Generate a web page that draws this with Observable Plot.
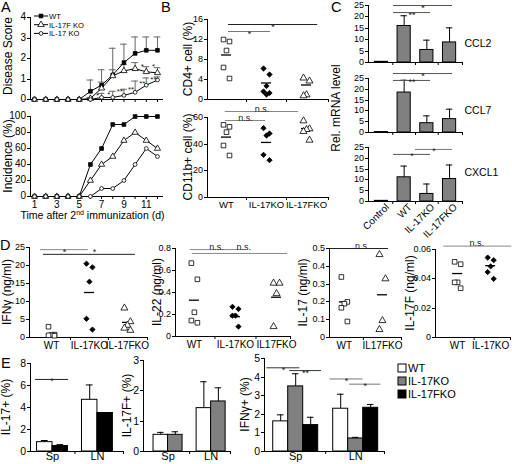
<!DOCTYPE html>
<html><head><meta charset="utf-8">
<script src="https://cdn.jsdelivr.net/npm/d3@7"></script>
<script src="https://cdn.jsdelivr.net/npm/@observablehq/plot@0.6"></script>
<style>
body{margin:0;background:#fff;}
#root{position:relative;width:512px;height:464px;overflow:hidden;background:#fff;}
#ticks{position:absolute;left:0;top:0;width:512px;height:464px;z-index:20;pointer-events:none;
  font-family:"Liberation Sans",Arial,Helvetica,sans-serif;color:#000;}
#ticks span{position:absolute;line-height:1;white-space:nowrap;transform:translate(-100%,-50%);}
#ticks b{position:absolute;display:block;height:1px;width:3px;background:#000;}
</style></head><body><div id="root"></div>
<script>
// ---------------- DATA ----------------
// Panel A
const days = [1,2,3,4,5,6,7,8,9,10,11,12];
const scoreWT = [0,0,0,0,0,0.4,0.7,1.2,1.8,2.25,2.4,2.4];
const scoreWTErr = [0,0,0,0,0,0.55,0.75,1.3,0.9,0.8,0.65,0.65];
const score17F = [0,0,0,0,0,0.05,0.55,1.15,1.4,1.5,1.35,1.3];
const score17FErr = [0,0,0,0,0,0.05,0.3,0.3,0.3,0.3,0.25,0.25];
const score17 = [0,0,0,0,0,0,0.1,0.1,0.2,0.35,0.7,0.95];
const score17Err = [0,0,0,0,0,0,0.2,0.3,0.3,0.55,0.35,0.15];
const incWT = [0,0,0,0,0,40,60,90,90,100,100,100];
const inc17F = [0,0,0,0,0,20,40,50,70,80,70,60];
const inc17 = [0,0,0,0,0,0,10,10,20,40,60,50];
const aStars = [
  {day:7,y:0.22,t:"*"},{day:8,y:0.25,t:"*"},{day:9,y:0.4,t:"**"},{day:10,y:0.5,t:"**"},
  {day:11,y:0.78,t:"**"},{day:12,y:1.0,t:"**"},{day:11,y:1.62,t:"*"},{day:12,y:1.62,t:"*"}];
const aLegend = ["WT","IL-17F KO","IL-17 KO"];

// Panel B
const bCats = ["WT","IL-17KO","IL-17FKO"];
const cd4WT = [12.0,11.6,9.8,6.4,4.2];
const cd4KO = [6.2,5.0,2.7,1.6,1.3,1.0];
const cd4FKO = [4.3,3.7,0.95,0.75];
const cd4Mean = [8.9,3.3,2.9];
const cd11WT = [54.5,53,49,39,31.5];
const cd11KO = [52,48,46.5,32,28];
const cd11FKO = [57.5,51.5,51,49.5,43];
const cd11Mean = [45.3,41.3,51.7];
const bSigTop = [{x1:0.05,x2:1.1,y:13.6,t:"*",c:"#777"},{x1:0.05,x2:2.28,y:15.0,t:"*",c:"#222"}];
const bSigBot = [{x1:-0.03,x2:0.98,y:57.75,t:"n.s.",c:"#888"},{x1:-0.03,x2:1.8,y:64.5,t:"n.s.",c:"#888"}];

// Panel C
const cCats = ["Control","WT","IL-17KO","IL-17FKO"];
const ccl2 = [0.3,16,5.5,8.8];   const ccl2Err = [0,4.5,4.3,6.4];
const ccl7 = [0.2,18.5,4.3,6.2]; const ccl7Err = [0,5.7,3.4,4.6];
const cxcl1 = [0.3,11.2,3.5,10.4]; const cxcl1Err = [0,5.2,4.6,6.5];
const cSig2 = [{x1:0.53,x2:3.13,y:25,t:"*",c:"#555"},{x1:0.53,x2:2.16,y:21.9,t:"**",c:"#555"}];
const cSig7 = [{x1:0.53,x2:3.13,y:27.3,t:"*",c:"#555"},{x1:0.53,x2:2.16,y:24.1,t:"**",c:"#555"}];
const cSigX = [{x1:0.53,x2:2.16,y:21.8,t:"*",c:"#555"},{x1:1.5,x2:3.13,y:24.1,t:"*",c:"#777"}];

// Panel D
const d1Cats = ["WT","IL-17KO","IL-17FKO"];
const ifnWT = [3.0,0.8,0.7,0.6,0.5];
const ifnKO = [20.5,19.5,15.5,5.2,2.2];
const ifnFKO = [8.2,4.4,3.4,2.6,2.0];
const ifnMean = [0.9,12.5,4.2];
const d1Sig = [{x1:-0.29,x2:0.97,y:24.4,t:"*",c:"#888"},{x1:-0.21,x2:2.21,y:23.1,t:"*",c:"#222",tx:1.13,ty:24.4}];
const d2Cats = ["WT","IL-17KO","IL17FKO"];
const il22WT = [0.667,0.52,0.22,0.145,0.125];
const il22KO = [0.27,0.25,0.19,0.19,0.09];
const il22FKO = [0.485,0.485,0.39,0.09];
const il22Mean = [0.33,0.18,0.357];
const d2Sig = [{x1:-0.1,x2:1.24,y:0.79,t:"n.s.",c:"#888",tx:0.54},{x1:-0.05,x2:2.27,y:0.755,t:"n.s.",c:"#888",tx:1.2,ty:0.79}];
const d3Cats = ["WT","IL17FKO"];
const il17WT = [0.34,0.2,0.19,0.167,0.09];
const il17FKO = [0.466,0.33,0.095,0.045];
const il17Mean = [0.2,0.24];
const d3Sig = [{x1:-0.37,x2:1.16,y:0.5,t:"n.s.",c:"#222",tx:0.47}];
const d4Cats = ["WT","IL-17KO"];
const il17fWT = [0.0516,0.050,0.0376,0.0376,0.0336];
const il17fKO = [0.0545,0.0527,0.0485,0.0446,0.040];
const il17fMean = [0.0436,0.049];
const d4Sig = [{x1:-0.42,x2:1.64,y:0.0623,t:"n.s.",c:"#888",tx:0.58}];

// Panel E
const eGroups = ["Sp","LN"];
const eLegend = ["WT","IL-17KO","IL-17FKO"];
const e1WT = [0.85,4.7];  const e1WTErr = [0.15,1.35];
const e1FKO = [0.5,3.5];  const e1FKOErr = [0.12,0];
const e2WT = [0.55,1.43]; const e2WTErr = [0.08,0.87];
const e2KO = [0.55,1.65]; const e2KOErr = [0.1,0.45];
const e3WT = [1.62,2.3];  const e3WTErr = [0.35,0.78];
const e3KO = [3.5,0.7];   const e3KOErr = [0.68,0.06];
const e3FKO = [1.42,2.35];const e3FKOErr = [0.42,0.18];
const e1Sig = [{x1:-0.38,x2:0.36,y:6.55,t:"*",c:"#222"}];
const e3Sig = [{x1:-0.48,x2:0.07,y:4.5,t:"*",c:"#333"},{x1:-0.1,x2:0.43,y:4.35,t:"**",c:"#333"},
               {x1:0.57,x2:1.12,y:3.9,t:"*",c:"#777"},{x1:0.9,x2:1.42,y:3.62,t:"*",c:"#777"}];

// ---------------- HELPERS ----------------
const FONT = "'Liberation Sans', Arial, Helvetica, sans-serif";
const root = document.getElementById("root");
const WHITE = "#fff", GRAY = "#808080", BLACK = "#000";
const yLabels = [];
const yAxes = [];

function place(frame, xdom, ydom, yticks, marks, opts = {}) {
  const [x0,y0,x1,y1] = frame;
  const ml=45, mr=45, mt=25, mb=40;
  const p = Plot.plot({
    width: x1-x0+ml+mr, height: y1-y0+mt+mb,
    marginLeft: ml, marginRight: mr, marginTop: mt, marginBottom: mb,
    x: {type:"linear", domain: xdom, label: null, axis: null},
    y: {type:"linear", domain: ydom, label: null, axis: null},
    marks
  });
  const left = x0-ml, topPx = y0-mt;
  p.style.position = "absolute";
  p.style.left = left + "px";
  p.style.top = topPx + "px";
  p.style.overflow = "visible";
  p.setAttribute("font-family", FONT);
  root.appendChild(p);
  // y-axis ticks: positions from Plot's y scale, with the frame mapping as a fallback
  let yfun = null;
  try {
    const ys = p.scale("y");
    if (ys && typeof ys.apply === "function") yfun = v => ys.apply(v);
  } catch (e) { yfun = null; }
  const lin = v => y1 - (v - ydom[0]) / (ydom[1] - ydom[0]) * (y1 - y0);
  const ticks = yticks.map(v => {
    let py = yfun ? topPx + yfun(v) : NaN;
    if (!Number.isFinite(py) || py < -50 || py > 600) py = lin(v);
    return {v, py};
  });
  yAxes.push({x: x0, ticks, size: opts.tickFont || 9});
  if (opts.ylab) yLabels.push({t: opts.ylab, x: x0 - opts.labOff, y: (y0+y1)/2 + (opts.labDy||0)});
  return p;
}
function sigMarks(sigs) {
  const out = [];
  for (const s of sigs) {
    out.push(Plot.ruleY([s], {y:"y", x1:"x1", x2:"x2", stroke: s.c, strokeWidth: 1}));
    const star = s.t.includes("*");
    out.push(Plot.text([s], {x: d => d.tx ?? (d.x1+d.x2)/2, y: d => d.ty ?? d.y, text:"t",
      lineAnchor:"bottom", dy: star ? 5 : 0, fontSize: 9, fill: "#222"}));
  }
  return out;
}
function baseMarks(xdom, ydom, bounds) {
  return [
    Plot.ruleX([xdom[0]], {stroke:"#000"}),
    Plot.ruleY([ydom[0]], {stroke:"#000"}),
    Plot.axisX({ticks: bounds, tickSize:3, tickFormat: () => "", label:null})
  ];
}

// dot-plot panel
function dotPanel(cfg) {
  const {frame, xdom, ydom, yticks, cats, series, means, sigs, ylab, labOff,
         catFont=10, catPad=4, showCats=true, labDy=0} = cfg;
  const ppu = (frame[2]-frame[0])/(xdom[1]-xdom[0]);
  const jit = [-3,3,0,-3,3,0];
  const bounds = cats.slice(1).map((_,i)=>i+0.5).concat([xdom[1]]);
  const marks = baseMarks(xdom, ydom, bounds);
  if (showCats) marks.push(Plot.axisX({ticks: cats.map((_,i)=>i), tickSize:0, tickPadding: catPad,
      tickFormat: i => cats[i], fontSize: catFont, label:null}));
  marks.push(Plot.ruleY(means.map((m,i)=>({m,i})), {y:"m", x1: d=>d.i-5/ppu, x2: d=>d.i+5/ppu, stroke:"#000", strokeWidth:1.3}));
  series.forEach((s, ci) => {
    const pts = s.vals.map((v,k) => ({x: ci + jit[k % jit.length]/ppu, y: v}));
    marks.push(Plot.dot(pts, {x:"x", y:"y", symbol: s.symbol, r: s.r, fill: s.fill, stroke:"#000", strokeWidth:0.8}));
  });
  marks.push(...sigMarks(sigs));
  return place(frame, xdom, ydom, yticks, marks, {ylab, labOff, labDy});
}
const SQ = {symbol:"square", r:2.6, fill:WHITE};
const DM = {symbol:"diamond2", r:2.4, fill:BLACK};
const TR = {symbol:"triangle", r:2.6, fill:WHITE};

// ---------------- PANEL A ----------------
const aX = [0.64, 12.54];
function rows(vals, errs) { return days.map((d,i)=>({day:d, v: vals[i], e: errs ? errs[i] : 0})); }
const aSeries = [
  {score: rows(scoreWT, scoreWTErr), inc: rows(incWT), symbol:"square", r:2.1, fill:BLACK},
  {score: rows(score17F, score17FErr), inc: rows(inc17F), symbol:"triangle", r:2.3, fill:WHITE},
  {score: rows(score17, score17Err), inc: rows(inc17), symbol:"circle", r:1.9, fill:WHITE}
];
{
  const marks = baseMarks(aX, [0,4], days);
  for (const s of aSeries) {
    const er = s.score.filter(d=>d.e>0);
    marks.push(Plot.ruleX(er, {x:"day", y1:"v", y2: d=>d.v+d.e, stroke:"#666"}));
    marks.push(Plot.ruleY(er, {y: d=>d.v+d.e, x1: d=>d.day-0.3, x2: d=>d.day+0.3, stroke:"#666"}));
  }
  for (const s of aSeries) {
    marks.push(Plot.line(s.score, {x:"day", y:"v", stroke:"#000", strokeWidth:1}));
    marks.push(Plot.dot(s.score, {x:"day", y:"v", symbol:s.symbol, r:s.r, fill:s.fill, stroke:"#000", strokeWidth:0.8}));
  }
  marks.push(Plot.text(aStars, {x:"day", y:"y", text:"t", dx:-4, fontSize:8, fill:"#222"}));
  place([30,17,163,99], aX, [0,4], [0,1,2,3,4], marks, {ylab:"Disease Score", labOff:22, labDy:-2, tickFont:10});
}
{
  const marks = baseMarks(aX, [0,100], days);
  marks.push(Plot.axisX({ticks: days.filter(d=>d%2===1), tickSize:0, tickPadding:4, fontSize:10, label:null}));
  for (const s of aSeries) {
    marks.push(Plot.line(s.inc, {x:"day", y:"v", stroke:"#000", strokeWidth:1}));
    marks.push(Plot.dot(s.inc, {x:"day", y:"v", symbol:s.symbol, r:s.r, fill:s.fill, stroke:"#000", strokeWidth:0.8}));
  }
  place([30,116,163,196], aX, [0,100], [0,20,40,60,80,100], marks, {ylab:"Incidence (%)", labOff:22, tickFont:10});
}

// ---------------- PANEL B ----------------
dotPanel({frame:[207,19,328,99], xdom:[-0.475,2.55], ydom:[0,16], yticks:[0,4,8,12,16], cats:bCats,
  series:[{vals:cd4WT,...SQ},{vals:cd4KO,...DM},{vals:cd4FKO,...TR}], means:cd4Mean, sigs:bSigTop,
  ylab:"CD4+ cell (%)", labOff:19, showCats:false});
dotPanel({frame:[207,117,328,197], xdom:[-0.475,2.55], ydom:[0,60], yticks:[0,20,40,60], cats:bCats,
  series:[{vals:cd11WT,...SQ},{vals:cd11KO,...DM},{vals:cd11FKO,...TR}], means:cd11Mean, sigs:bSigBot,
  ylab:"CD11b+ cell (%)", labOff:19, catFont:9.5, catPad:4});

// ---------------- PANEL C ----------------
function barC(frame, vals, errs, sigs, name, nameDy, showCats, lab) {
  const xdom = [-0.57, 3.57];
  const bars = vals.map((v,i)=>({i, v, e: errs[i]}));
  const marks = baseMarks(xdom, [0,25], [0.5,1.5,2.5,xdom[1]]);
  marks.push(Plot.rectY(bars, {x1: d=>d.i-0.29, x2: d=>d.i+0.29, y1: 0, y2: "v", fill: GRAY, stroke:"#000", strokeWidth:1}));
  const er = bars.filter(d=>d.e>0);
  marks.push(Plot.ruleX(er, {x:"i", y1:"v", y2: d=>d.v+d.e, stroke:"#000"}));
  marks.push(Plot.ruleY(er, {y: d=>d.v+d.e, x1: d=>d.i-0.14, x2: d=>d.i+0.14, stroke:"#000"}));
  marks.push(...sigMarks(sigs));
  marks.push(Plot.text([name], {frameAnchor:"right", textAnchor:"start", dx:2, dy:nameDy, text:d=>d, fontSize:10.5}));
  if (showCats) marks.push(Plot.axisX({ticks:[0,1,2,3], tickFormat: i=>cCats[i], tickRotate:-45, tickSize:0,
      tickPadding:2, dx:6, dy:2, fontSize:10, label:null}));
  return place(frame, xdom, [0,25], [0,5,10,15,20,25], marks, lab || {});
}
barC([368,5,462,62], ccl2, ccl2Err, cSig2, "CCL2", 9.5, false);
barC([368,78,462,132], ccl7, ccl7Err, cSig7, "CCL7", 5, false, {ylab:"Rel. mRNA level", labOff:32, labDy:3});
barC([368,147,462,201], cxcl1, cxcl1Err, cSigX, "CXCL1", -2, true);

// ---------------- PANEL D ----------------
dotPanel({frame:[29,247,147,337], xdom:[-0.58,2.53], ydom:[0,25], yticks:[0,5,10,15,20,25], cats:d1Cats,
  series:[{vals:ifnWT,...SQ},{vals:ifnKO,...DM},{vals:ifnFKO,...TR}], means:ifnMean, sigs:d1Sig,
  ylab:"IFNγ (ng/ml)", labOff:22});
dotPanel({frame:[175,248,290,336], xdom:[-0.46,2.34], ydom:[0,0.8], yticks:[0,0.2,0.4,0.6,0.8], cats:d2Cats,
  series:[{vals:il22WT,...SQ},{vals:il22KO,...DM},{vals:il22FKO,...TR}], means:il22Mean, sigs:d2Sig,
  ylab:"IL-22 (ng/ml)", labOff:18});
dotPanel({frame:[329,248,401,337], xdom:[-0.39,1.5], ydom:[0,0.5], yticks:[0,0.1,0.2,0.3,0.4,0.5], cats:d3Cats,
  series:[{vals:il17WT,...SQ},{vals:il17FKO,...TR}], means:il17Mean, sigs:d3Sig,
  ylab:"IL-17 (ng/ml)", labOff:26});
dotPanel({frame:[435,249,510,337], xdom:[-0.67,1.6], ydom:[0,0.06], yticks:[0,0.02,0.04,0.06], cats:d4Cats,
  series:[{vals:il17fWT,...SQ},{vals:il17fKO,...DM}], means:il17fMean, sigs:d4Sig,
  ylab:"IL-17F (ng/ml)", labOff:25});

// ---------------- PANEL E ----------------
function barE(frame, xdom, ydom, yticks, series, bw, sigs, ylab, labOff) {
  const n = series.length;
  const marks = baseMarks(xdom, ydom, [0.5, xdom[1]]);
  marks.push(Plot.axisX({ticks:[0,1], tickFormat: i=>eGroups[i], tickSize:0, tickPadding:1, fontSize:11, label:null}));
  series.forEach((s, j) => {
    const bars = s.vals.map((v,g)=>({xc: g + (j-(n-1)/2)*bw, v, e: s.errs[g]}));
    marks.push(Plot.rectY(bars, {x1: d=>d.xc-bw/2, x2: d=>d.xc+bw/2, y1:0, y2:"v", fill:s.fill, stroke:"#000", strokeWidth:1}));
    const er = bars.filter(d=>d.e>0);
    marks.push(Plot.ruleX(er, {x:"xc", y1:"v", y2: d=>d.v+d.e, stroke:"#000"}));
    marks.push(Plot.ruleY(er, {y: d=>d.v+d.e, x1: d=>d.xc-bw*0.22, x2: d=>d.xc+bw*0.22, stroke:"#000"}));
  });
  marks.push(...sigMarks(sigs));
  return place(frame, xdom, ydom, yticks, marks, {ylab, labOff, tickFont:10.5});
}
barE([30,363,123,451], [-0.49,1.58], [0,8], [0,2,4,6,8],
  [{vals:e1WT, errs:e1WTErr, fill:WHITE},{vals:e1FKO, errs:e1FKOErr, fill:BLACK}], 0.344, e1Sig, "IL-17+ (%)", 24);
barE([143,360,230,451], [-0.57,1.45], [0,3], [0,1,2,3],
  [{vals:e2WT, errs:e2WTErr, fill:WHITE},{vals:e2KO, errs:e2KOErr, fill:GRAY}], 0.337, [], "IL-17F+ (%)", 16);
barE([264,358,384,451], [-0.52,1.48], [0,5], [0,1,2,3,4,5],
  [{vals:e3WT, errs:e3WTErr, fill:WHITE},{vals:e3KO, errs:e3KOErr, fill:GRAY},{vals:e3FKO, errs:e3FKOErr, fill:BLACK}],
  0.25, e3Sig, "IFNγ+ (%)", 19);

// ---------------- OVERLAY: panel letters, axis titles, legends ----------------
const ov = d3.select(root).append("svg").attr("width",512).attr("height",464)
  .style("position","absolute").style("left","0px").style("top","0px").style("z-index","9")
  .attr("font-family", FONT);
[["A",1,12],["B",161,12],["C",331,12],["D",0,250],["E",1,368]].forEach(([t,x,y]) =>
  ov.append("text").attr("x",x).attr("y",y).attr("font-size",14.5).text(t));
yLabels.forEach(l => ov.append("text").attr("x", l.x).attr("y", l.y + 4).attr("font-size", 12)
  .attr("text-anchor","middle").attr("transform", `rotate(-90,${l.x},${l.y})`).text(l.t));
const xt = ov.append("text").attr("x",92.5).attr("y",219).attr("font-size",10.5).attr("text-anchor","middle");
xt.append("tspan").text("Time after 2");
xt.append("tspan").attr("font-size",7).attr("dy",-4).text("nd");
xt.append("tspan").attr("dy",4).text(" immunization (d)");
// legend A
const aSym = [d3.symbolSquare, d3.symbolTriangle, d3.symbolCircle];
aLegend.forEach((t,i) => {
  const y = [16,24.7,33.4][i];
  ov.append("line").attr("x1",34).attr("x2",48).attr("y1",y).attr("y2",y).attr("stroke","#000");
  ov.append("path").attr("d", d3.symbol(aSym[i], [14,18,11][i])()).attr("transform",`translate(41,${y})`)
    .attr("fill", i===0 ? "#000" : "#fff").attr("stroke","#000").attr("stroke-width",0.8);
  ov.append("text").attr("x",49).attr("y",y+2.8).attr("font-size",7.6).text(t);
});
// legend E
const eFill = [WHITE, GRAY, BLACK];
eLegend.forEach((t,i) => {
  const y = [368,381,394][i];
  ov.append("rect").attr("x",398).attr("y",y-4).attr("width",8).attr("height",8).attr("fill",eFill[i]).attr("stroke","#000");
  ov.append("text").attr("x",408).attr("y",y+4).attr("font-size",11).text(t);
});

// ---------------- Y-AXIS TICKS, drawn on top ----------------
const tk = document.createElement("div");
tk.id = "ticks";
yAxes.forEach(ax => ax.ticks.forEach(t => {
  const m = document.createElement("b");
  m.style.left = (ax.x - 3) + "px";
  m.style.top = (Math.round(t.py) - 0.5) + "px";
  tk.appendChild(m);
  const s = document.createElement("span");
  s.textContent = String(t.v);
  s.style.fontSize = ax.size + "px";
  s.style.left = (ax.x - 4) + "px";
  s.style.top = t.py + "px";
  tk.appendChild(s);
}));
root.appendChild(tk);
</script></body></html>
